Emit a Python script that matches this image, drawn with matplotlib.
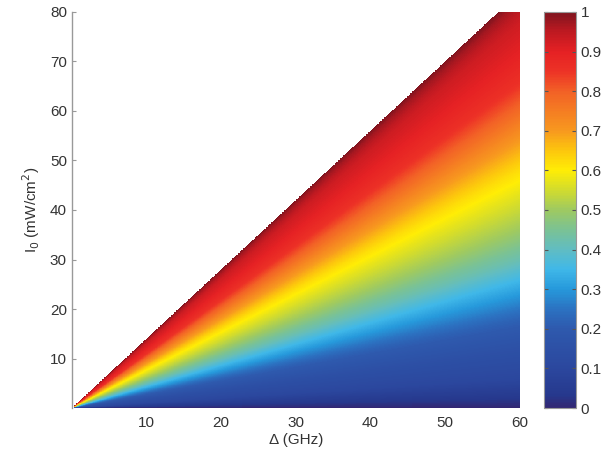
import numpy as np
import matplotlib
matplotlib.use("Agg")
import matplotlib.pyplot as plt
from matplotlib.colors import LinearSegmentedColormap

# --- data ---
# value profile as a function of the ratio I0/Delta (read along the Delta=60 GHz column)
ratio = [0.0, 0.1, 0.2, 0.3, 0.4, 0.5, 0.6, 0.7, 0.8, 0.9, 1.0, 1.1, 1.2, 1.3, 1.37, 1.4]
value = [0.0, 0.10, 0.15, 0.22, 0.32, 0.42, 0.50, 0.56, 0.62, 0.70, 0.78, 0.86, 0.90, 0.93, 0.97, 1.0]
delta_range = [0.3, 60.0]
i0_range = [0.0, 80.0]
xticks = [10, 20, 30, 40, 50, 60]
yticks = [10, 20, 30, 40, 50, 60, 70, 80]
cbar_ticks = [0, 0.1, 0.2, 0.3, 0.4, 0.5, 0.6, 0.7, 0.8, 0.9, 1]
cbar_labels = ["0", "0.1", "0.2", "0.3", "0.4", "0.5", "0.6", "0.7", "0.8", "0.9", "1"]

# colormap sampled from the reference colorbar
cmap_pos = [0.0, 0.03, 0.1, 0.2, 0.25, 0.3, 0.35, 0.4, 0.45, 0.5, 0.55, 0.6, 0.65, 0.7, 0.8, 0.85, 0.9, 0.95, 1.0]
cmap_col = [(0.20, 0.15, 0.45), (0.15, 0.22, 0.55), (0.17, 0.28, 0.62), (0.18, 0.35, 0.68),
            (0.17, 0.45, 0.76), (0.15, 0.60, 0.86), (0.25, 0.72, 0.91), (0.38, 0.74, 0.76),
            (0.48, 0.76, 0.58), (0.62, 0.79, 0.38), (0.82, 0.86, 0.18), (1.00, 0.93, 0.02),
            (0.99, 0.78, 0.05), (0.97, 0.60, 0.12), (0.95, 0.38, 0.15), (0.93, 0.20, 0.15),
            (0.90, 0.13, 0.14), (0.75, 0.10, 0.13), (0.50, 0.08, 0.12)]
cmap = LinearSegmentedColormap.from_list("ref", list(zip(cmap_pos, cmap_col)))

plt.rcParams['font.family'] = ['Liberation Sans', 'DejaVu Sans']
txt = '#333333'

fig = plt.figure(figsize=(6.08, 4.57), dpi=100)
ax = fig.add_axes([0.118, 0.107, 0.737, 0.867])
cax = fig.add_axes([0.895, 0.107, 0.052, 0.867])

d = np.linspace(delta_range[0], delta_range[1], 700)
i = np.linspace(i0_range[0], i0_range[1], 900)
D, I = np.meshgrid(d, i)
R = I / D
Z = np.interp(R, ratio, value)
Z = np.ma.masked_where(R > ratio[-1], Z)

mesh = ax.pcolormesh(D, I, Z, cmap=cmap, vmin=0, vmax=1, shading='auto', rasterized=True)
ax.set_xlim(0, 60)
ax.set_ylim(0, 80)
ax.set_xticks(xticks)
ax.set_yticks(yticks)
for s in ['top', 'right', 'bottom']:
    ax.spines[s].set_visible(False)
ax.spines['left'].set_color('#999999')
ax.spines['left'].set_linewidth(1.0)
ax.tick_params(direction='in', length=3, color='#999999', labelsize=11, labelcolor=txt)
ax.tick_params(axis='x', length=0, pad=6)
ax.set_xlabel('Δ (GHz)', fontsize=11, color=txt, labelpad=2)
ax.set_ylabel('I$_0$ (mW/cm$^2$)', fontsize=11, color=txt, labelpad=6)

cb = fig.colorbar(mesh, cax=cax)
cb.set_ticks(cbar_ticks)
cb.set_ticklabels(cbar_labels)
cb.outline.set_edgecolor('#999999')
cb.outline.set_linewidth(0.8)
cax.tick_params(direction='in', length=3, color='#555555', labelsize=11, labelcolor=txt,
                left=True, right=True)

fig.savefig('out.png', dpi=100)
